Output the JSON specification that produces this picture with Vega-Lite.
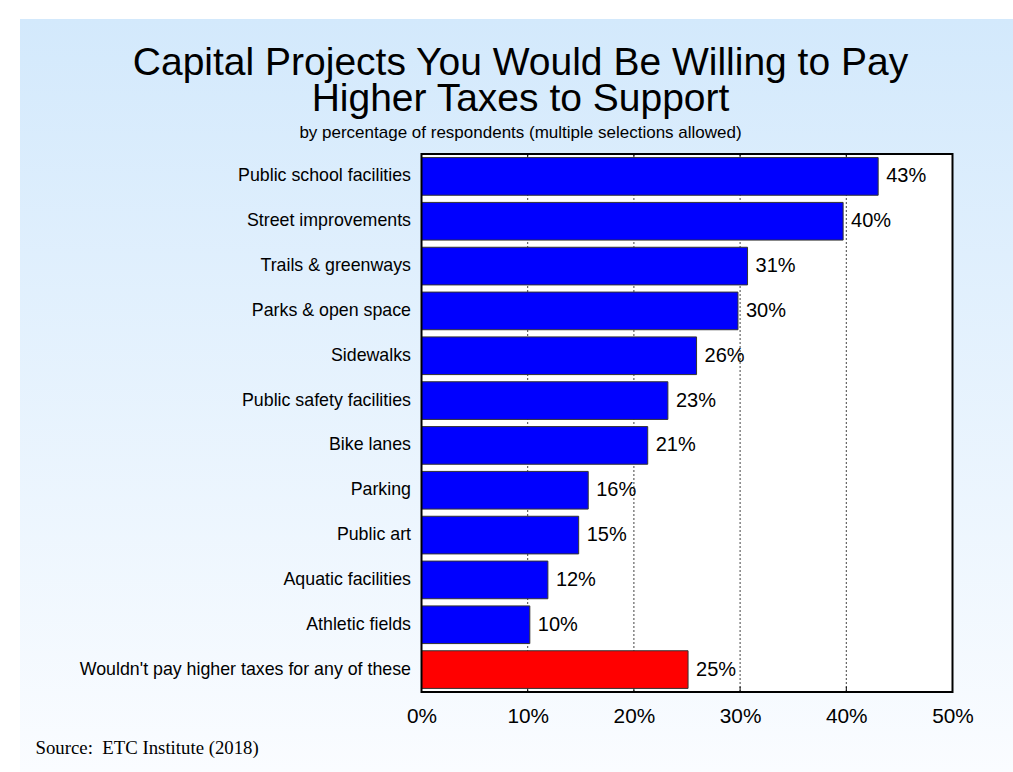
{
  "$schema": "https://vega.github.io/schema/vega-lite/v6.json",
  "width": 993,
  "height": 753,
  "autosize": {"type": "none"},
  "padding": {"left": 20, "top": 19, "right": 0, "bottom": 0},
  "background": "#ffffff",
  "view": {
    "stroke": null,
    "fill": {"gradient": "linear", "x1": 0, "y1": 0, "x2": 0, "y2": 1,
      "stops": [{"offset": 0, "color": "#d3e9fc"}, {"offset": 1, "color": "#fafcff"}]}
  },
  "title": {
    "text": ["Capital Projects You Would Be Willing to Pay", "Higher Taxes to Support"],
    "subtitle": "by percentage of respondents (multiple selections allowed)",
    "anchor": "middle",
    "frame": "group",
    "offset": -122,
    "dx": 4,
    "font": "Liberation Sans",
    "fontSize": 39,
    "fontWeight": "normal",
    "lineHeight": 36,
    "color": "#000000",
    "subtitleFont": "Liberation Sans",
    "subtitleFontSize": 17,
    "subtitleColor": "#000000",
    "subtitlePadding": 6
  },
  "datasets": {
    "projects": [
      {"project": "Public school facilities", "pct": 43.0, "label": "43%", "group": "Project"},
      {"project": "Street improvements", "pct": 39.7, "label": "40%", "group": "Project"},
      {"project": "Trails & greenways", "pct": 30.7, "label": "31%", "group": "Project"},
      {"project": "Parks & open space", "pct": 29.8, "label": "30%", "group": "Project"},
      {"project": "Sidewalks", "pct": 25.9, "label": "26%", "group": "Project"},
      {"project": "Public safety facilities", "pct": 23.2, "label": "23%", "group": "Project"},
      {"project": "Bike lanes", "pct": 21.3, "label": "21%", "group": "Project"},
      {"project": "Parking", "pct": 15.7, "label": "16%", "group": "Project"},
      {"project": "Public art", "pct": 14.8, "label": "15%", "group": "Project"},
      {"project": "Aquatic facilities", "pct": 11.9, "label": "12%", "group": "Project"},
      {"project": "Athletic fields", "pct": 10.2, "label": "10%", "group": "Project"},
      {"project": "Wouldn't pay higher taxes for any of these", "pct": 25.1, "label": "25%", "group": "None"}
    ],
    "gridlines": [{"pct": 10}, {"pct": 20}, {"pct": 30}, {"pct": 40}]
  },
  "resolve": {"scale": {"y": "independent"}, "axis": {"y": "independent"}},
  "layer": [
    {
      "data": {"values": [{}]},
      "mark": {"type": "rect", "fill": "#ffffff"},
      "encoding": {
        "x": {
          "datum": 0, "type": "quantitative",
          "scale": {"domain": [0, 50], "range": [401.5, 932.5]},
          "axis": {
            "orient": "bottom", "offset": -80, "values": [0, 10, 20, 30, 40, 50],
            "labelExpr": "datum.value + '%'", "domain": false, "ticks": false, "tickSize": 0, "grid": false,
            "labelFont": "Liberation Sans", "labelFontSize": 20.8, "labelColor": "#000000",
            "labelBaseline": "alphabetic", "labelPadding": 30, "labelFlush": false, "labelOverlap": false,
            "title": "Source:\u00a0 ETC Institute (2018)", "titleX": 15, "titleY": 61, "titleAlign": "left",
            "titleAnchor": "start", "titleAngle": 0,
            "titleBaseline": "alphabetic", "titleFont": "Liberation Serif", "titleFontSize": 18.8,
            "titleFontWeight": "normal", "titleColor": "#000000"
          }
        },
        "x2": {"datum": 50},
        "y": {"datum": 0, "type": "quantitative", "scale": {"domain": [0, 12], "range": [135, 673]}, "axis": null},
        "y2": {"datum": 12}
      }
    },
    {
      "data": {"name": "gridlines"},
      "mark": {"type": "rule", "color": "#444444", "strokeWidth": 1, "strokeDash": [2, 2]},
      "encoding": {
        "x": {"field": "pct", "type": "quantitative"},
        "y": {"datum": 0, "type": "quantitative", "scale": {"domain": [0, 12], "range": [135, 673]}, "axis": null},
        "y2": {"datum": 12}
      }
    },
    {
      "data": {"name": "gridlines"},
      "mark": {"type": "rule", "color": "#000000", "strokeWidth": 1},
      "encoding": {
        "x": {"field": "pct", "type": "quantitative"},
        "y": {"datum": 0, "type": "quantitative", "scale": {"domain": [0, 12], "range": [135, 673]}, "axis": null},
        "y2": {"datum": 0.12}
      }
    },
    {
      "data": {"name": "gridlines"},
      "mark": {"type": "rule", "color": "#000000", "strokeWidth": 1},
      "encoding": {
        "x": {"field": "pct", "type": "quantitative"},
        "y": {"datum": 11.88, "type": "quantitative", "scale": {"domain": [0, 12], "range": [135, 673]}, "axis": null},
        "y2": {"datum": 12}
      }
    },
    {
      "data": {"name": "projects"},
      "mark": {"type": "bar", "stroke": "#333333", "strokeWidth": 1, "height": {"band": 0.84}},
      "encoding": {
        "y": {
          "field": "project", "type": "nominal", "sort": null,
          "scale": {
            "domain": ["Public school facilities", "Street improvements", "Trails & greenways", "Parks & open space", "Sidewalks", "Public safety facilities", "Bike lanes", "Parking", "Public art", "Aquatic facilities", "Athletic fields", "Wouldn't pay higher taxes for any of these"],
            "range": [135, 673], "paddingInner": 0, "paddingOuter": 0
          },
          "axis": {
            "orient": "left", "offset": -401.5, "title": null, "domain": false, "ticks": false, "tickSize": 0,
            "grid": false, "labelFont": "Liberation Sans", "labelFontSize": 17.8, "labelColor": "#000000",
            "labelPadding": 11, "labelLimit": 500
          }
        },
        "x": {"field": "pct", "type": "quantitative"},
        "color": {
          "field": "group", "type": "nominal",
          "scale": {"domain": ["Project", "None"], "range": ["#0000ff", "#ff0000"]},
          "legend": null
        }
      }
    },
    {
      "data": {"name": "projects"},
      "mark": {"type": "text", "align": "left", "baseline": "middle", "dx": 8, "font": "Liberation Sans", "fontSize": 20, "color": "#000000"},
      "encoding": {
        "y": {
          "field": "project", "type": "nominal", "sort": null,
          "scale": {
            "domain": ["Public school facilities", "Street improvements", "Trails & greenways", "Parks & open space", "Sidewalks", "Public safety facilities", "Bike lanes", "Parking", "Public art", "Aquatic facilities", "Athletic fields", "Wouldn't pay higher taxes for any of these"],
            "range": [135, 673], "paddingInner": 0, "paddingOuter": 0
          },
          "axis": null
        },
        "x": {"field": "pct", "type": "quantitative"},
        "text": {"field": "label"}
      }
    },
    {
      "data": {"values": [{}]},
      "mark": {"type": "rect", "filled": false, "stroke": "#000000", "strokeWidth": 2},
      "encoding": {
        "x": {"datum": 0, "type": "quantitative"},
        "x2": {"datum": 50},
        "y": {"datum": 0, "type": "quantitative", "scale": {"domain": [0, 12], "range": [135, 673]}, "axis": null},
        "y2": {"datum": 12}
      }
    }
  ]
}
